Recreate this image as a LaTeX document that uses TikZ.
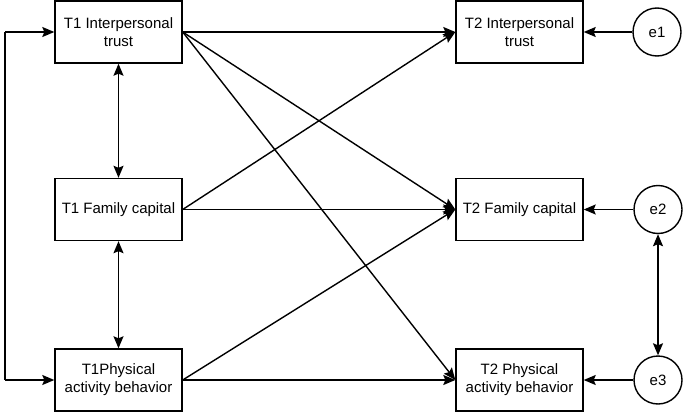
\documentclass[tikz,border=0pt]{standalone}
\usepackage{fontspec}
\setmainfont{Liberation Sans}
\usetikzlibrary{arrows.meta}
\begin{document}
\begin{tikzpicture}[x=1pt,y=-1pt,
  var/.style={draw,line width=1.4pt,minimum width=127pt,minimum height=62pt,inner sep=0pt,align=center,font=\fontsize{15pt}{18pt}\selectfont},
  err/.style={draw,circle,line width=1.4pt,minimum size=48pt,inner sep=0pt,font=\fontsize{15pt}{18pt}\selectfont},
  arr/.style={line width=1.4pt,-{Stealth[length=12pt,width=10pt,inset=2pt]}},
  darr/.style={line width=1.4pt,{Stealth[length=12pt,width=10pt,inset=2pt]}-{Stealth[length=12pt,width=10pt,inset=2pt]}}]
\useasboundingbox (0,0) rectangle (685,412);
\node[var] (a1) at (118.5,32) {T1 Interpersonal\\trust};
\node[var] (b1) at (118.5,209.5) {T1 Family capital};
\node[var] (c1) at (118.5,380) {T1Physical\\activity behavior};
\node[var] (a2) at (519.5,32) {T2 Interpersonal\\trust};
\node[var] (b2) at (519.5,209.5) {T2 Family capital};
\node[var] (c2) at (519.5,380) {T2 Physical\\activity behavior};
\node[err] (e1) at (657,32) {e1};
\node[err] (e2) at (658,209.5) {e2};
\node[err] (e3) at (658,380) {e3};
\coordinate (l1) at (5,32);
\coordinate (l2) at (5,380);
\draw[arr] (l1) -- (a1.west);
\draw[arr] (l2) -- (c1.west);
\draw[line width=1.4pt] (l1) -- (l2);
\draw[darr] (a1.south) -- (b1.north);
\draw[darr] (b1.south) -- (c1.north);
\draw[darr] (e2.south) -- (e3.north);
\draw[arr] (e1) -- (a2.east);
\draw[arr] (e2) -- (b2.east);
\draw[arr] (e3) -- (c2.east);
\draw[arr] (a1.east) -- (a2.west);
\draw[arr] (a1.east) -- (b2.west);
\draw[arr] (a1.east) -- (c2.west);
\draw[arr] (b1.east) -- (a2.west);
\draw[arr] (b1.east) -- (b2.west);
\draw[arr] (c1.east) -- (b2.west);
\draw[arr] (c1.east) -- (c2.west);
\end{tikzpicture}
\end{document}
